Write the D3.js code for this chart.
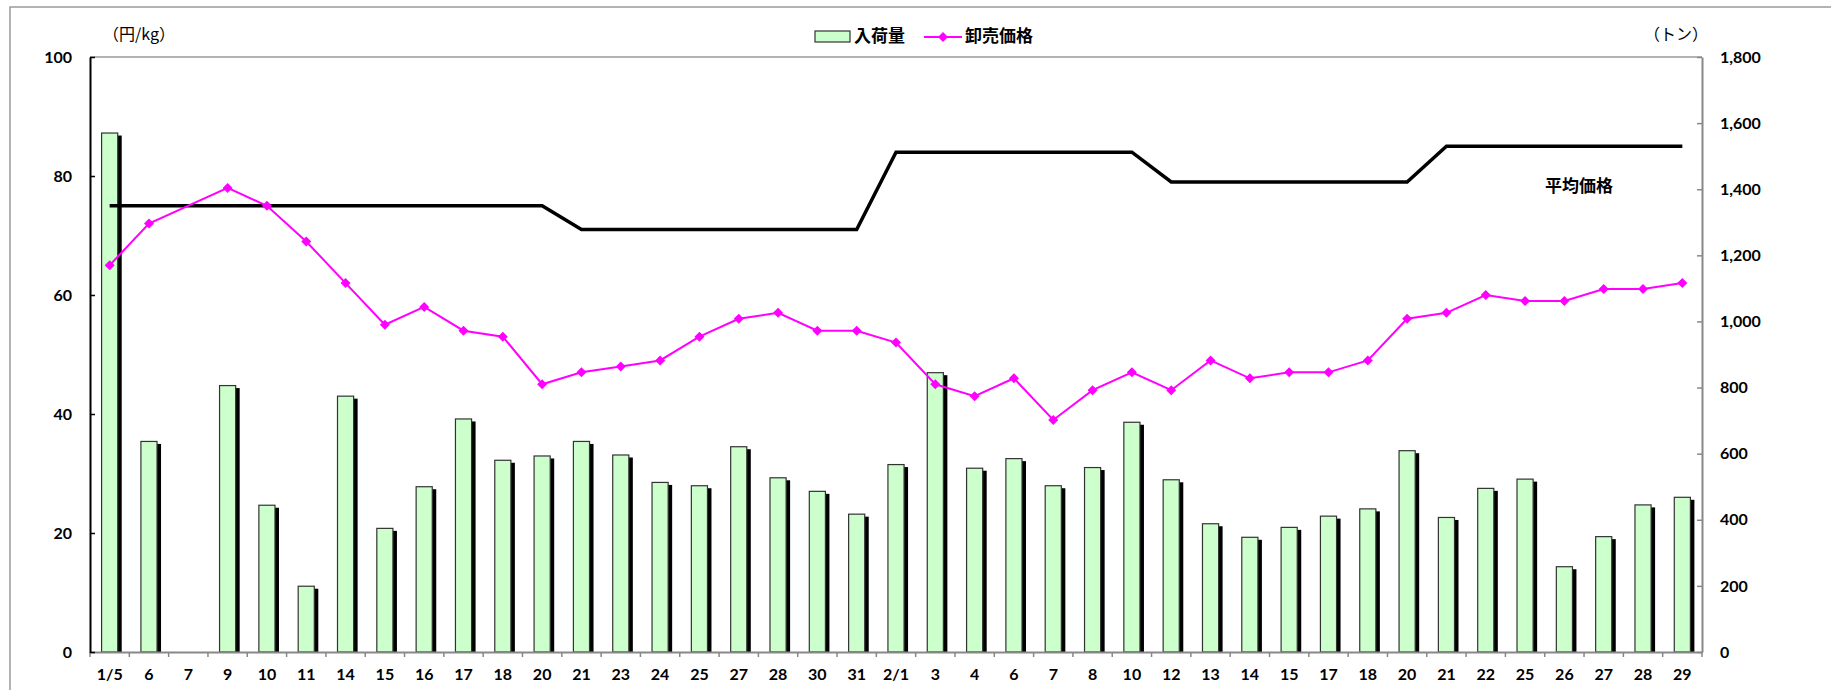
<!DOCTYPE html>
<html>
<head>
<meta charset="utf-8">
<script src="https://cdn.jsdelivr.net/npm/d3@7"></script>
<style>
  body { margin: 0; background: #fff; }
  .num { font-family: Lato, "Open Sans", sans-serif; font-weight: bold; font-size: 16px; fill: #000; }
  .jp { font-family: "Noto Sans CJK JP", sans-serif; fill: #000; }
</style>
</head>
<body>
<div id="chart"></div>
<script>
// dates on the x axis (Jan 5 - Feb 29)
var dates = ["1/5","6","7","9","10","11","14","15","16","17","18","20","21","23","24","25","27","28","30","31",
             "2/1","3","4","6","7","8","10","12","13","14","15","17","18","20","21","22","25","26","27","28","29"];
// 入荷量 (トン)
var arrivals = [1570,637,null,806,444,199,774,374,500,705,580,593,637,596,513,503,621,527,486,417,
                567,845,556,585,503,558,695,521,388,347,377,411,433,609,407,495,523,258,349,445,468];
// 卸売価格 (円/kg)
var prices = [65,72,null,78,75,69,62,55,58,54,53,45,47,48,49,53,56,57,54,54,
              52,45,43,46,39,44,47,44,49,46,47,47,49,56,57,60,59,59,61,61,62];
// 平均価格 (円/kg)
var avgPrices = [75,75,75,75,75,75,75,75,75,75,75,75,71,71,71,71,71,71,71,71,
                 84,84,84,84,84,84,84,79,79,79,79,79,79,79,85,85,85,85,85,85,85];
var leftTicks = [0,20,40,60,80,100];
var rightTicks = [0,200,400,600,800,1000,1200,1400,1600,1800];

var W = 1831, H = 690;
var plot = {left: 90, right: 1702, top: 57, bottom: 652};

var svg = d3.select("#chart").append("svg")
    .attr("width", W)
    .attr("height", H)
    .style("display", "block");

svg.append("rect").attr("width", W).attr("height", H).attr("fill", "#fff");

// outer chart frame (only top and left edges are inside the picture)
svg.append("path")
    .attr("d", "M10," + H + " L10,7 L" + W + ",7")
    .attr("fill", "none")
    .attr("stroke", "#9a9a9a")
    .attr("stroke-width", 1.5);

var idx = d3.range(dates.length);
var x = d3.scaleBand()
    .domain(idx)
    .range([plot.left, plot.right]);
var bw = x.bandwidth();
var barW = bw * 0.41;

var yL = d3.scaleLinear().domain([0, 100]).range([plot.bottom, plot.top]);
var yR = d3.scaleLinear().domain([0, 1800]).range([plot.bottom, plot.top]);

// plot top border
svg.append("line")
    .attr("x1", plot.left).attr("x2", plot.right)
    .attr("y1", plot.top).attr("y2", plot.top)
    .attr("stroke", "#9a9a9a").attr("stroke-width", 1.5);

// bars: black shadow then green face
var barData = idx.filter(function(i) { return arrivals[i] != null; });
svg.append("g").selectAll("rect")
    .data(barData)
    .enter().append("rect")
    .attr("x", function(i) { return x(i) + (bw - barW) / 2 + 4; })
    .attr("y", function(i) { return yR(arrivals[i]) + 2.5; })
    .attr("width", barW)
    .attr("height", function(i) { return plot.bottom - yR(arrivals[i]) - 2.5; })
    .attr("fill", "#000");

svg.append("g").selectAll("rect")
    .data(barData)
    .enter().append("rect")
    .attr("x", function(i) { return x(i) + (bw - barW) / 2; })
    .attr("y", function(i) { return yR(arrivals[i]); })
    .attr("width", barW)
    .attr("height", function(i) { return plot.bottom - yR(arrivals[i]); })
    .attr("fill", "#ccffcc")
    .attr("stroke", "#333")
    .attr("stroke-width", 1.2);

// x axis
var xAxis = svg.append("g")
    .attr("transform", "translate(0," + plot.bottom + ")")
    .call(d3.axisBottom(x).tickSize(0).tickPadding(17).tickFormat(function(i) { return dates[i]; }));
xAxis.select(".domain").attr("stroke", "#888").attr("stroke-width", 2);
xAxis.selectAll("text").attr("class", "num");
xAxis.selectAll(".bnd")
    .data(d3.range(dates.length + 1))
    .enter().append("line")
    .attr("x1", function(i) { return plot.left + i * bw; })
    .attr("x2", function(i) { return plot.left + i * bw; })
    .attr("y1", 0).attr("y2", 5)
    .attr("stroke", "#888").attr("stroke-width", 1.5);

// left axis
var axL = svg.append("g")
    .attr("transform", "translate(" + plot.left + ",0)")
    .call(d3.axisLeft(yL).tickValues(leftTicks).tickSizeInner(-5).tickSizeOuter(0).tickPadding(18));
axL.select(".domain").attr("stroke", "#000").attr("stroke-width", 2);
axL.selectAll(".tick line").attr("stroke", "#000").attr("stroke-width", 1.5);
axL.selectAll("text").attr("class", "num");

// right axis
var axR = svg.append("g")
    .attr("transform", "translate(" + plot.right + ",0)")
    .call(d3.axisRight(yR).tickValues(rightTicks).tickSizeInner(-5).tickSizeOuter(0).tickPadding(18)
        .tickFormat(d3.format(",")));
axR.select(".domain").attr("stroke", "#888").attr("stroke-width", 2);
axR.selectAll(".tick line").attr("stroke", "#888").attr("stroke-width", 1.5);
axR.selectAll("text").attr("class", "num").attr("text-anchor", "start");

// average price line
var cx = function(i) { return x(i) + bw / 2; };
svg.append("path")
    .datum(idx)
    .attr("fill", "none")
    .attr("stroke", "#000")
    .attr("stroke-width", 3.5)
    .attr("d", d3.line().x(cx).y(function(i) { return yL(avgPrices[i]); }));

// wholesale price line (gaps bridged)
var priceData = idx.filter(function(i) { return prices[i] != null; });
svg.append("path")
    .datum(priceData)
    .attr("fill", "none")
    .attr("stroke", "#ff00ff")
    .attr("stroke-width", 2)
    .attr("d", d3.line().x(cx).y(function(i) { return yL(prices[i]); }));

var diamond = "M0,-5L5,0L0,5L-5,0Z";
svg.append("g").selectAll("path")
    .data(priceData)
    .enter().append("path")
    .attr("d", diamond)
    .attr("transform", function(i) { return "translate(" + cx(i) + "," + yL(prices[i]) + ")"; })
    .attr("fill", "#ff00ff");

// labels
svg.append("text").attr("class", "jp")
    .attr("x", 103).attr("y", 36).attr("dominant-baseline", "middle")
    .style("font-size", "16px")
    .text("（円/kg）");
svg.append("text").attr("class", "jp")
    .attr("x", 1708).attr("y", 36).attr("dominant-baseline", "middle")
    .attr("text-anchor", "end")
    .style("font-size", "16px")
    .text("（トン）");
svg.append("text").attr("class", "jp")
    .attr("x", 1579).attr("y", 187).attr("dominant-baseline", "middle")
    .attr("text-anchor", "middle")
    .style("font-size", "17px").style("font-weight", "bold")
    .text("平均価格");

// legend
var lg = svg.append("g");
lg.append("rect")
    .attr("x", 815).attr("y", 31).attr("width", 35).attr("height", 11)
    .attr("fill", "#ccffcc").attr("stroke", "#333").attr("stroke-width", 1.2);
lg.append("text").attr("class", "jp")
    .attr("x", 854).attr("y", 37).attr("dominant-baseline", "middle")
    .style("font-size", "17px").style("font-weight", "bold")
    .text("入荷量");
lg.append("line")
    .attr("x1", 924).attr("x2", 962).attr("y1", 37).attr("y2", 37)
    .attr("stroke", "#ff00ff").attr("stroke-width", 2);
lg.append("path")
    .attr("d", diamond)
    .attr("transform", "translate(943,37)")
    .attr("fill", "#ff00ff");
lg.append("text").attr("class", "jp")
    .attr("x", 965).attr("y", 37).attr("dominant-baseline", "middle")
    .style("font-size", "17px").style("font-weight", "bold")
    .text("卸売価格");
</script>
</body>
</html>
